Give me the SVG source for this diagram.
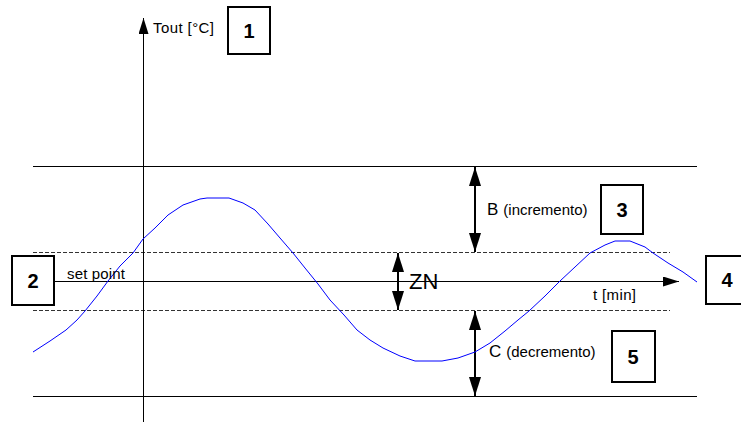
<svg xmlns="http://www.w3.org/2000/svg" width="741" height="422" viewBox="0 0 741 422">
<style>
  text { font-family: "Liberation Sans", Arial, sans-serif; fill: #000; }
  .lbl { font-size: 15px; }
  .big { font-size: 17px; }
  .num { font-size: 20px; font-weight: bold; text-anchor: middle; }
  .box { fill: #fff; stroke: #000; stroke-width: 2; }
  .solid { stroke: #000; stroke-width: 1; fill: none; }
  .dash { stroke: #333; stroke-width: 1; stroke-dasharray: 4 2; fill: none; }
  .axis { stroke: #000; stroke-width: 1; fill: none; }
  .dbl { stroke: #000; stroke-width: 2; fill: none; marker-start: url(#ah); marker-end: url(#ah); }
  .curve { stroke: #0000ff; stroke-width: 1; fill: none; }
</style>
<defs>
  <marker id="ax" viewBox="0 0 16 10" refX="16" refY="5" markerWidth="16" markerHeight="10" markerUnits="userSpaceOnUse" orient="auto">
    <path d="M0,0 L16,5 L0,10 z" fill="#000"/>
  </marker>
  <marker id="ah" viewBox="0 0 19 12" refX="19" refY="6" markerWidth="19" markerHeight="12" markerUnits="userSpaceOnUse" orient="auto-start-reverse">
    <path d="M0,0 L19,6 L0,12 z" fill="#000"/>
  </marker>
</defs>
<rect width="741" height="422" fill="#fff"/>

<g id="connectors">
  <line class="solid" x1="33" y1="166.5" x2="697" y2="166.5"/>
  <line class="solid" x1="33" y1="396.5" x2="697" y2="396.5"/>
  <line class="dash" x1="33" y1="252.5" x2="670" y2="252.5"/>
  <line class="dash" x1="33" y1="310.5" x2="670" y2="310.5"/>
  <line class="axis" x1="143.5" y1="422" x2="143.5" y2="18" marker-end="url(#ax)"/>
  <line class="axis" x1="54" y1="281.5" x2="679" y2="281.5" marker-end="url(#ax)"/>
  <line class="dbl" x1="475" y1="167" x2="475" y2="252"/>
  <line class="dbl" x1="398" y1="253" x2="398" y2="310"/>
  <line class="dbl" x1="475" y1="311" x2="475" y2="396"/>
</g>

<polyline id="curve" class="curve" points="33,352 50,341 66,330 77,320 85,311 97,296 108,281 120,266 133,253 143,239 155,228 168,215 183,205 200,199 207,198 229,198 243,203 255,210 268,224 280,238 293,253 305,268 318,284 330,300 344,315 357,330 370,340 383,348 400,356 415,361 442,361 458,358 475,352 490,343 505,331 518,320 529,311 545,296 560,281 575,267 590,253 605,245 615,241 630,241 645,247 653,253 668,263 683,272 697,282"/>

<g id="labels">
  <text class="lbl" x="153" y="33" textLength="61">Tout [°C]</text>
  <text class="lbl" x="67" y="279" textLength="58">set point</text>
  <text class="lbl" x="593" y="300" textLength="43">t [min]</text>
  <text x="487" y="215"><tspan class="big">B</tspan><tspan class="lbl" dx="5">(incremento)</tspan></text>
  <text x="489" y="357"><tspan class="big">C</tspan><tspan class="lbl" dx="5">(decremento)</tspan></text>
  <text x="409" y="289" style="font-size:22px">ZN</text>
</g>

<g id="node1"><rect class="box" x="228" y="7" width="42" height="47"/><text class="num" x="249" y="38">1</text></g>
<g id="node2"><rect class="box" x="12" y="256" width="42" height="49"/><text class="num" x="33" y="288">2</text></g>
<g id="node3"><rect class="box" x="601" y="185" width="42" height="49"/><text class="num" x="622" y="217">3</text></g>
<g id="node4"><rect class="box" x="706" y="256" width="42" height="48"/><text class="num" x="727" y="287">4</text></g>
<g id="node5"><rect class="box" x="612" y="331" width="43" height="51"/><text class="num" x="633" y="364">5</text></g>
</svg>
